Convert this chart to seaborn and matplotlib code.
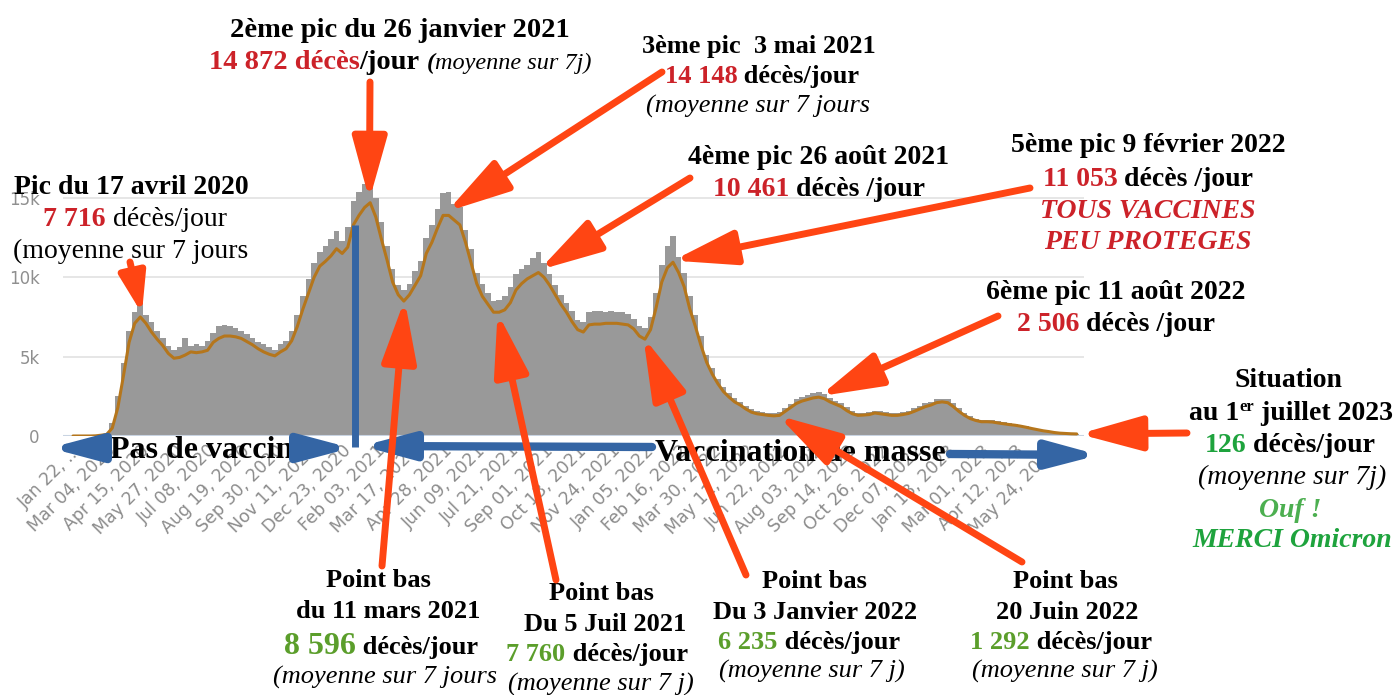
import numpy as np
import pandas as pd
import seaborn as sns
import matplotlib.pyplot as plt
from matplotlib.transforms import IdentityTransform

W, H = 1397, 695

# 7-day average of daily deaths (thousands), one reading per week from 22 Jan 2020
avg7_k = [
    0.0, 0.0, 0.0, 0.0, 0.01, 0.05, 0.1, 0.5, 1.8, 3.8,
    5.9, 7.1, 7.5, 7.1, 6.55, 6.1, 5.7, 5.2, 4.9, 4.95,
    5.1, 5.3, 5.25, 5.3, 5.4, 5.9, 6.15, 6.3, 6.3, 6.25,
    6.15, 5.95, 5.75, 5.5, 5.3, 5.15, 5.05, 5.3, 5.5, 6.0,
    6.9, 8.0, 9.0, 10.0, 10.7, 11.0, 11.35, 11.8, 11.5, 11.9,
    13.3, 13.9, 14.4, 14.7, 13.8, 12.4, 11.1, 9.7, 8.9, 8.5,
    8.9, 9.5, 10.1, 11.5, 12.2, 13.1, 13.9, 13.9, 13.6, 13.3,
    12.2, 10.9, 9.6, 8.8, 8.3, 7.8, 7.8, 7.95, 8.4, 9.2,
    9.6, 9.9, 10.1, 10.3, 10.0, 9.5, 8.9, 8.3, 7.8, 7.2,
    6.7, 6.55, 7.0, 7.05, 7.05, 7.1, 7.1, 7.1, 7.05, 7.0,
    6.75, 6.3, 6.1, 6.7, 8.1, 9.7, 10.6, 10.95, 10.3, 9.4,
    8.0, 6.9, 5.7, 4.65, 3.9, 3.3, 2.8, 2.45, 2.15, 1.95,
    1.7, 1.5, 1.4, 1.35, 1.3, 1.27, 1.3, 1.55, 1.8, 2.05,
    2.2, 2.3, 2.4, 2.45, 2.35, 2.15, 2.0, 1.85, 1.6, 1.4,
    1.3, 1.32, 1.35, 1.45, 1.4, 1.35, 1.3, 1.3, 1.35, 1.42,
    1.55, 1.7, 1.85, 1.95, 2.1, 2.15, 2.1, 1.85, 1.55, 1.3,
    1.1, 0.98, 0.9, 0.9, 0.88, 0.82, 0.77, 0.72, 0.68, 0.62,
    0.55, 0.47, 0.4, 0.33, 0.28, 0.22, 0.18, 0.16, 0.14, 0.13,
]

# daily deaths (thousands), top of the grey bars, same weeks
daily_k = [
    0.0, 0.0, 0.0, 0.0, 0.02, 0.06, 0.15, 0.8, 2.5, 4.6,
    6.6, 7.8, 8.6, 7.6, 7.2, 6.6, 6.2, 5.7, 5.4, 5.6,
    6.2, 5.7, 5.8, 5.7, 6.0, 6.5, 6.9, 7.0, 6.9, 6.8,
    6.6, 6.4, 6.2, 5.9, 5.8, 5.6, 5.4, 5.8, 6.0, 6.6,
    7.6, 8.8, 9.9, 10.9, 11.6, 12.0, 12.4, 12.9, 12.3, 13.2,
    14.8, 15.4, 15.9, 15.8, 15.0, 13.5, 12.0, 10.5, 9.5, 9.2,
    9.6, 10.4, 11.0, 12.5, 13.3, 14.3, 15.3, 15.4, 14.6, 14.4,
    13.0, 11.8, 10.3, 9.6, 9.0, 8.5, 8.6, 8.8, 9.4, 10.2,
    10.5, 10.8, 11.2, 11.6, 10.9, 10.2, 9.5, 8.9, 8.4, 7.9,
    7.3, 7.2, 7.8, 7.9, 7.9, 7.8, 7.9, 7.8, 7.8, 7.7,
    7.4, 6.9, 6.8, 7.5, 9.0, 10.8, 12.0, 12.6, 11.3, 10.3,
    8.8, 7.6, 6.3, 5.1, 4.3, 3.6, 3.1, 2.7, 2.4, 2.15,
    1.9, 1.7, 1.55, 1.5, 1.45, 1.45, 1.5, 1.75, 2.0, 2.3,
    2.45, 2.6, 2.7, 2.8, 2.65, 2.4, 2.2, 2.05, 1.8, 1.55,
    1.45, 1.45, 1.5, 1.6, 1.55, 1.5, 1.45, 1.45, 1.5, 1.6,
    1.75, 1.9, 2.05, 2.15, 2.3, 2.35, 2.3, 2.05, 1.75, 1.45,
    1.25, 1.1, 1.0, 1.0, 0.98, 0.92, 0.86, 0.8, 0.76, 0.7,
    0.62, 0.53, 0.45, 0.38, 0.32, 0.26, 0.21, 0.18, 0.16, 0.14,
]

tick_labels = ["Jan 22, ...", "Mar 04, 2020", "Apr 15, 2020", "May 27, 2020", "Jul 08, 2020",
               "Aug 19, 2020", "Sep 30, 2020", "Nov 11, 2020", "Dec 23, 2020", "Feb 03, 2021",
               "Mar 17, 2021", "Apr 28, 2021", "Jun 09, 2021", "Jul 21, 2021", "Sep 01, 2021",
               "Oct 13, 2021", "Nov 24, 2021", "Jan 05, 2022", "Feb 16, 2022", "Mar 30, 2022",
               "May 11, 2022", "Jun 22, 2022", "Aug 03, 2022", "Sep 14, 2022", "Oct 26, 2022",
               "Dec 07, 2022", "Jan 18, 2023", "Mar 01, 2023", "Apr 12, 2023", "May 24, 2023"]

# annotated points (date, 7-day average)
peak_dates = ["2020-04-17", "2021-01-26", "2021-05-03", "2021-08-26", "2022-02-09", "2022-08-11", "2023-07-01"]
peak_vals = [7716, 14872, 14148, 10461, 11053, 2506, 126]
low_dates = ["2021-03-11", "2021-07-05", "2022-01-03", "2022-06-20"]
low_vals = [8596, 7760, 6235, 1292]

vaccine_start = "2021-01-08"
vaccine_line_top = 13300

start = pd.Timestamp("2020-01-22")
weeks = pd.date_range(start, periods=len(avg7_k), freq="7D")
df = pd.DataFrame({
    "day": (weeks - start).days,
    "deaths": np.array(daily_k) * 1000,
    "avg7": np.array(avg7_k) * 1000,
})

RED = "#cc2229"
ORANGE = "#ff4513"
BLUE = "#3465a4"
GREEN = "#5b9e2b"
GREEN2 = "#1ea33d"
GREEN3 = "#4caf50"
K = "black"

sns.set_theme(style="white")
plt.rcParams["font.family"] = ["DejaVu Sans"]

fig = plt.figure(figsize=(W / 100, H / 100), dpi=100)
ax = fig.add_axes([63.4 / W, (H - 436) / H, (1083.9 - 63.4) / W, (436 - 178.9) / H])

sns.barplot(data=df, x="day", y="deaths", native_scale=True, width=1.0, color="#999999",
            saturation=1, linewidth=0, errorbar=None, ax=ax)
sns.lineplot(data=df, x="day", y="avg7", color="#b5761c", lw=2.2, ax=ax, zorder=3)

ax.set_xlim(-12, 1262)
ax.set_ylim(0, 16200)
ax.set_yticks([0, 5000, 10000, 15000], ["0", "5k", "10k", "15k"])
ax.grid(axis="y", color="#e2e2e2", lw=1.2)
ax.grid(axis="x", visible=False)
ax.set_axisbelow(True)
ax.axhline(0, color="#c9d4e2", lw=1.5, zorder=2)
for s in ax.spines.values():
    s.set_visible(False)

tick_days = [0] + list((pd.to_datetime(tick_labels[1:], format="%b %d, %Y") - start).days)
ax.set_xticks(tick_days, tick_labels, rotation=45, ha="right", rotation_mode="anchor")
ax.tick_params(axis="x", length=0, pad=4, labelsize=12.5, labelcolor="#8c8c8c")
ax.tick_params(axis="y", length=0, pad=17, labelsize=12, labelcolor="#8f8f8f")
ax.set_xlabel("")
ax.set_ylabel("")

# vaccination start line
vax_day = (pd.Timestamp(vaccine_start) - start).days
ax.vlines(vax_day, -700, vaccine_line_top, colors=BLUE, lw=5, clip_on=False, zorder=4)


def fp(x, y):
    # top-left pixel -> figure pixels
    return (x, H - y)


def arrow(tip, tail, color, lw, hl, hw, tip_coords="figure pixels"):
    ax.annotate("", xy=tip, xycoords=tip_coords, xytext=fp(*tail), textcoords="figure pixels",
                annotation_clip=False, zorder=6,
                arrowprops=dict(arrowstyle=f"-|>,head_length={hl},head_width={hw}", color=color,
                                lw=lw, mutation_scale=10, shrinkA=0, shrinkB=0))


# blue arrows under the axis
for tail, tip in [((105, 448), (50, 448)), ((297, 448), (351, 448)),
                  ((652, 447), (362, 446)), ((950, 454), (1099, 455))]:
    arrow(fp(*tip), tail, BLUE, 6, 3.0, 0.8)

renderer = fig.canvas.get_renderer()
ID = IdentityTransform()


def props(color, bold, italic, size):
    return dict(family="Liberation Serif", color=color, fontweight="bold" if bold else "normal",
                fontstyle="italic" if italic else "normal", fontsize=size)


def width(s, kw):
    t = ax.text(0, 0, "x" + s + "x", transform=ID, **kw)
    w1 = t.get_window_extent(renderer).width
    t.set_text("xx")
    w2 = t.get_window_extent(renderer).width
    t.remove()
    return w1 - w2


def line(xc, yb, pieces):
    kws = [props(*p[1:5]) for p in pieces]
    ws = [width(p[0], kw) for p, kw in zip(pieces, kws)]
    x = xc - sum(ws) / 2
    for p, kw, w in zip(pieces, kws, ws):
        dy = p[5] if len(p) > 5 else 0
        ax.text(x, H - yb + dy, p[0], transform=ID, ha="left", va="baseline", zorder=5, **kw)
        x += w


S = 20
line(400, 37, [("2ème pic du 26 janvier 2021", K, True, False, 20.5)])
line(400, 69, [("14 872 décès", RED, True, False, 20.5), ("/jour ", K, True, False, 20.5),
               ("(", K, True, True, 17.5), ("moyenne sur 7j)", K, False, True, 17.5)])

line(759, 53, [("3ème pic  3 mai 2021", K, True, False, 19)])
line(762, 83, [("14 148", RED, True, False, 19), (" décès/jour", K, True, False, 19)])
line(758, 113, [("(moyenne sur 7 jours", K, False, True, 19)])

line(131, 194, [("Pic du 17 avril 2020", K, True, False, S)])
line(135, 226, [("7 716", RED, True, False, S), (" décès/jour", K, False, False, S)])
line(131, 258, [("(moyenne sur 7 jours", K, False, False, S)])

line(819, 164, [("4ème pic 26 août 2021", K, True, False, S)])
line(819, 196, [("10 461", RED, True, False, S), (" décès /jour", K, True, False, S)])

line(1148, 152, [("5ème pic 9 février 2022", K, True, False, S)])
line(1148, 186, [("11 053", RED, True, False, S), (" décès /jour", K, True, False, S)])
line(1148, 218, [("TOUS VACCINES", RED, True, True, S)])
line(1148, 249, [("PEU PROTEGES", RED, True, True, S)])

line(1116, 299, [("6ème pic 11 août 2022", K, True, False, S)])
line(1116, 331, [("2 506", RED, True, False, S), (" décès /jour", K, True, False, S)])

line(1288, 387, [("Situation", K, True, False, S)])
line(1291, 420, [("au 1", K, True, False, S), ("er", K, True, False, 12, 9),
                 (" juillet 2023", K, True, False, S)])
line(1290, 452, [("126", GREEN2, True, False, S), (" décès/jour", K, True, False, S)])
line(1292, 484, [("(moyenne sur 7j)", K, False, True, S)])
line(1290, 517, [("Ouf !", GREEN3, True, True, S)])
line(1292, 547, [("MERCI Omicron", GREEN2, True, True, S)])

B = 19
line(378, 587, [("Point bas", K, True, False, B)])
line(388, 618, [("du 11 mars 2021", K, True, False, B)])
line(381, 654, [("8 596", GREEN, True, False, 23), (" décès/jour", K, True, False, B)])
line(385, 684, [("(moyenne sur 7 jours", K, False, True, B)])

line(601, 600, [("Point bas", K, True, False, B)])
line(605, 631, [("Du 5 Juil 2021", K, True, False, B)])
line(597, 661, [("7 760", GREEN, True, False, B), (" décès/jour", K, True, False, B)])
line(601, 691, [("(moyenne sur 7 j)", K, False, True, B)])

line(814, 588, [("Point bas", K, True, False, B)])
line(815, 619, [("Du 3 Janvier 2022", K, True, False, B)])
line(809, 649, [("6 235", GREEN, True, False, B), (" décès/jour", K, True, False, B)])
line(812, 678, [("(moyenne sur 7 j)", K, False, True, B)])

line(1065, 588, [("Point bas", K, True, False, B)])
line(1067, 619, [("20 Juin 2022", K, True, False, B)])
line(1061, 649, [("1 292", GREEN, True, False, B), (" décès/jour", K, True, False, B)])
line(1065, 678, [("(moyenne sur 7 j)", K, False, True, B)])

line(202, 458, [("Pas de vaccin", K, True, False, 23)])
line(800, 461, [("Vaccination de masse", K, True, False, 23)])

# red arrows pointing at the peaks and the low points
peak_tails = [(130, 262), (370, 82), (662, 72), (690, 178), (1030, 188), (998, 316), (1187, 433)]
peak_heads = [(2.4, 0.8)] + [(3.8, 1.05)] * 6
for d, v, tail, (hl, hw) in zip(peak_dates, peak_vals, peak_tails, peak_heads):
    arrow(((pd.Timestamp(d) - start).days, v), tail, ORANGE, 5, hl, hw, tip_coords="data")

low_tails = [(382, 566), (556, 580), (746, 575), (1022, 562)]
for d, v, tail in zip(low_dates, low_vals, low_tails):
    arrow(((pd.Timestamp(d) - start).days, v), tail, ORANGE, 5, 3.8, 1.05, tip_coords="data")

fig.savefig("out.png", dpi=100)
